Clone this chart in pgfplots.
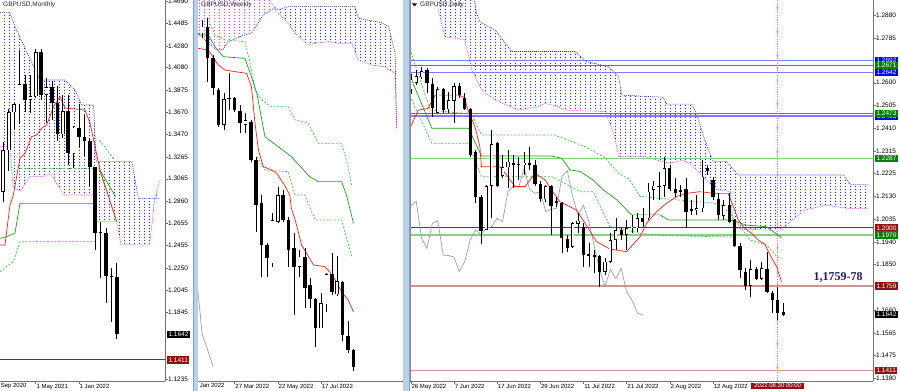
\documentclass[border=0pt]{standalone}
\usepackage{pgfplots}
\pgfplotsset{compat=1.18}
\usepackage{pgfplotstable}
\usepgfplotslibrary{fillbetween}
\usetikzlibrary{patterns}
\usepackage{fontspec}
\setmainfont{Liberation Sans}
\newfontfamily\bigserif{Liberation Serif}

\definecolor{cloudblue}{RGB}{40,40,255}
\definecolor{cloudmag}{RGB}{235,60,235}
\definecolor{tenkan}{RGB}{255,30,30}
\definecolor{kijun}{RGB}{40,150,40}
\definecolor{dgreen}{RGB}{80,185,80}
\definecolor{chikou}{RGB}{150,160,178}
\definecolor{lvblue}{RGB}{125,125,250}
\definecolor{lvgreen}{RGB}{60,150,60}
\definecolor{lvlgreen}{RGB}{140,205,140}
\definecolor{lvdred}{RGB}{150,35,35}
\definecolor{lvrose}{RGB}{205,150,150}
\definecolor{boxblue}{RGB}{0,0,235}
\definecolor{boxgreen}{RGB}{0,128,0}
\definecolor{boxred}{RGB}{140,20,20}
\definecolor{sepblue}{RGB}{185,208,232}
\definecolor{sepedge}{RGB}{130,160,200}
\definecolor{navytxt}{RGB}{30,30,85}
\definecolor{vdot}{RGB}{235,130,130}

\pgfdeclarepatternformonly{mtdots}{\pgfqpoint{0pt}{0pt}}{\pgfqpoint{5.4pt}{3pt}}{\pgfqpoint{5.4pt}{3pt}}{\pgfpathrectangle{\pgfqpoint{0pt}{0pt}}{\pgfqpoint{0.9pt}{1.6pt}}\pgfusepath{fill}}

\pgfplotsset{
 mt/.style={scale only axis, height=381pt, axis x line*=bottom, tick align=outside,
   major tick length=2.5pt, axis line style={draw=black!55, line width=0.6pt},
   tick style={black!55, line width=0.5pt},
   xticklabel style={font=\fontsize{6}{7}\selectfont, anchor=north west, inner sep=0.6pt},
   yticklabel style={font=\fontsize{6.5}{7}\selectfont, anchor=west, inner sep=0.5pt}},
 tk/.style={tenkan, line width=0.7pt},
 kj/.style={kijun, line width=0.7pt},
 dg/.style={dgreen, line width=0.7pt, dash pattern=on 2pt off 1.6pt},
 ck/.style={chikou, line width=0.7pt},
 spa/.style={cloudblue, line width=0.6pt, dash pattern=on 1pt off 1pt},
 spb/.style={cloudmag, line width=0.6pt, dash pattern=on 1pt off 1pt},
}

\pgfplotstableread{
x o h l c
0 1.2945 1.3399 1.2854 1.3325
1 1.3325 1.3704 1.3134 1.3671
2 1.3671 1.3758 1.3520 1.3746
3 1.3746 1.4241 1.3566 1.3929
4 1.3929 1.4017 1.3671 1.3784
5 1.3784 1.4009 1.3669 1.3820
6 1.3820 1.4250 1.3800 1.4222
7 1.4222 1.4249 1.3787 1.3830
8 1.3830 1.3984 1.3571 1.3900
9 1.3900 1.3958 1.3602 1.3754
10 1.3754 1.3913 1.3412 1.3471
11 1.3471 1.3834 1.3434 1.3681
12 1.3681 1.3834 1.3194 1.3299
13 1.3299 1.3548 1.3160 1.3531
14 1.3531 1.3750 1.3358 1.3447
15 1.3447 1.3644 1.3272 1.3414
16 1.3414 1.3438 1.3001 1.3169
17 1.3169 1.3170 1.2411 1.2567
18 1.2567 1.2667 1.2155 1.2573
19 1.2573 1.2618 1.1933 1.2178
20 1.2178 1.2247 1.1760 1.2167
21 1.2167 1.2294 1.1600 1.1642
}\mdata

\pgfplotstableread{
x o h l c
0 1.3556 1.3632 1.3527 1.3594
1 1.3594 1.3642 1.3278 1.3412
2 1.3412 1.3431 1.3202 1.3240
3 1.3231 1.3240 1.3020 1.3030
4 1.3030 1.3211 1.3001 1.3179
5 1.3179 1.3326 1.3116 1.3177
6 1.3183 1.3189 1.3106 1.3116
7 1.3110 1.3145 1.2982 1.3039
8 1.3030 1.3097 1.2982 1.3059
9 1.3049 1.3059 1.2820 1.2829
10 1.2829 1.2848 1.2418 1.2571
11 1.2580 1.2628 1.2160 1.2341
12 1.2341 1.2351 1.2160 1.2265
13 1.2236 1.2523 1.2217 1.2485
14 1.2475 1.2676 1.2466 1.2628
15 1.2628 1.2657 1.2475 1.2485
16 1.2485 1.2504 1.2217 1.2313
17 1.2322 1.2408 1.1940 1.2217
18 1.2217 1.2313 1.2160 1.2274
19 1.2274 1.2326 1.1978 1.2097
20 1.2112 1.2150 1.1978 1.2032
21 1.2032 1.2039 1.1758 1.1863
22 1.1863 1.2064 1.1863 1.2007
23 1.2001 1.2179 1.1959 1.2173
24 1.2173 1.2294 1.2055 1.2070
25 1.2058 1.2280 1.2051 1.2135
26 1.2127 1.2135 1.1791 1.1825
27 1.1822 1.1905 1.1720 1.1739
28 1.1739 1.1745 1.1618 1.1643
}\wdata

\pgfplotstableread{
x o h l c
0 1.2573 1.2635 1.2555 1.2615
1 1.2600 1.2653 1.2591 1.2628
2 1.2622 1.2666 1.2614 1.2649
3 1.2653 1.2660 1.2556 1.2600
4 1.2595 1.2618 1.2460 1.2494
5 1.2476 1.2581 1.2471 1.2573
6 1.2573 1.2577 1.2474 1.2487
7 1.2490 1.2563 1.2474 1.2529
8 1.2526 1.2598 1.2432 1.2587
9 1.2587 1.2598 1.2536 1.2549
10 1.2536 1.2556 1.2487 1.2490
11 1.2490 1.2494 1.2295 1.2301
12 1.2315 1.2322 1.2104 1.2129
13 1.2129 1.2136 1.1934 1.1989
14 1.1992 1.2177 1.1992 1.2173
15 1.2173 1.2405 1.2040 1.2347
16 1.2350 1.2357 1.2171 1.2173
17 1.2215 1.2301 1.2205 1.2251
18 1.2251 1.2322 1.2164 1.2274
19 1.2270 1.2301 1.2164 1.2259
20 1.2261 1.2295 1.2198 1.2260
21 1.2259 1.2315 1.2219 1.2270
22 1.2267 1.2333 1.2239 1.2260
23 1.2260 1.2281 1.2174 1.2182
24 1.2182 1.2195 1.2109 1.2118
25 1.2118 1.2176 1.2109 1.2173
26 1.2173 1.2177 1.1971 1.2091
27 1.2105 1.2129 1.2088 1.2110
28 1.2102 1.2109 1.1898 1.1957
29 1.1953 1.1971 1.1902 1.1916
30 1.1923 1.2026 1.1916 1.2019
31 1.2017 1.2061 1.1978 1.2030
32 1.2006 1.2019 1.1840 1.1888
33 1.1892 1.1937 1.1840 1.1886
34 1.1888 1.1909 1.1813 1.1880
35 1.1884 1.1889 1.1758 1.1820
36 1.1820 1.1875 1.1806 1.1861
37 1.1861 1.1978 1.1854 1.1950
38 1.1950 1.2040 1.1909 1.1992
39 1.1992 1.1999 1.1950 1.1971
40 1.1971 1.2033 1.1909 1.1999
41 1.1999 1.2054 1.1978 1.2006
42 1.1999 1.2061 1.1985 1.2040
43 1.2040 1.2081 1.2006 1.2026
44 1.2040 1.2185 1.2033 1.2150
45 1.2157 1.2192 1.2116 1.2174
46 1.2174 1.2233 1.2116 1.2168
47 1.2174 1.2295 1.2129 1.2247
48 1.2247 1.2260 1.2154 1.2160
49 1.2160 1.2205 1.2129 1.2143
50 1.2155 1.2178 1.2129 1.2150
51 1.2160 1.2205 1.1999 1.2068
52 1.2072 1.2116 1.2054 1.2077
53 1.2074 1.2136 1.2054 1.2081
54 1.2081 1.2281 1.2068 1.2212
55 1.2247 1.2260 1.2219 1.2237
56 1.2198 1.2212 1.2116 1.2129
57 1.2120 1.2143 1.2032 1.2054
58 1.2049 1.2115 1.2032 1.2094
59 1.2094 1.2143 1.2019 1.2026
60 1.2032 1.2039 1.1922 1.1925
61 1.1925 1.1936 1.1792 1.1826
62 1.1819 1.1833 1.1743 1.1760
63 1.1760 1.1867 1.1716 1.1829
64 1.1829 1.1840 1.1785 1.1791
65 1.1791 1.1860 1.1785 1.1833
66 1.1829 1.1902 1.1732 1.1736
67 1.1732 1.1740 1.1647 1.1702
68 1.1702 1.1757 1.1619 1.1649
69 1.1654 1.1691 1.1636 1.1640
}\ddata

\begin{document}
\begin{tikzpicture}[x=1pt,y=1pt]

%================ MONTHLY =================
\begin{axis}[mt, at={(0pt,10pt)}, anchor=south west, width=165pt,
  xmin=-0.611, xmax=29.94, ymin=1.12164, ymax=1.4699,
  axis y line*=right,
  ytick={1.4690,1.4485,1.4280,1.4080,1.3875,1.3670,1.3470,1.3265,1.3065,1.2860,1.2655,1.2455,1.2250,1.2045,1.1845,1.1235},
  yticklabels={1.4690,1.4485,1.4280,1.4080,1.3875,1.3670,1.3470,1.3265,1.3065,1.2860,1.2655,1.2455,1.2250,1.2045,1.1845,1.1235},
  xtick={6,14}, xticklabels={1 May 2021,1 Jan 2022}]
\addplot[name path=mA, spa] coordinates {(-0.611,1.4583)(1.24,1.4583)(2.17,1.4455)(6.8,1.3968)(11.4,1.3968)(13.3,1.3876)(14.5,1.3739)(16.7,1.3739)(17.2,1.3221)(23.8,1.3221)(25.0,1.2886)(29.0,1.2886)};
\addplot[name path=mB, spb] coordinates {(-0.611,1.3358)(1.2,1.3358)(1.8,1.3000)(3.1,1.2950)(4.9,1.3084)(7.4,1.3084)(8.6,1.3115)(10.5,1.2978)(11.2,1.2917)(16.7,1.2917)(17.4,1.2673)(21.0,1.2673)(21.8,1.2460)(27.1,1.2460)(28.0,1.2870)(29.0,1.3053)};
\addplot[draw=none, pattern=mtdots, pattern color=cloudblue] fill between[of=mA and mB, soft clip={domain=-1:28.0}];
\addplot[draw=none, pattern=mtdots, pattern color=cloudmag] fill between[of=mA and mB, soft clip={domain=28.0:30}];
\addplot[lvdred, line width=0.8pt] coordinates {(-1,1.1411)(31,1.1411)};
\addplot[dg] coordinates {(-0.611,1.2216)(1.86,1.2307)(3.09,1.2490)(17,1.2490)};
\addplot[dg] coordinates {(3.09,1.3160)(17.3,1.3160)};
\addplot[dg] coordinates {(17.8,1.3419)(20.6,1.3236)};
\addplot[dg] coordinates {(17.7,1.3161)(21.0,1.2673)};
\addplot[kj] coordinates {(-0.611,1.2520)(0.62,1.2536)(2.16,1.2567)(3.09,1.2840)(16.7,1.2840)};
\addplot[kj] coordinates {(17.7,1.3161)(20.8,1.2901)};
\addplot[tk] coordinates {(-0.611,1.2460)(0.31,1.2460)(1.24,1.2826)(1.86,1.2917)(3.09,1.3252)(4.02,1.3297)(5.25,1.3450)(6.2,1.3465)(7.1,1.3526)(8.03,1.3556)(9.3,1.3724)(10.5,1.3815)(11.4,1.3712)(15.1,1.3694)(16.05,1.3575)(17.9,1.3145)(21.0,1.2673)};
\addplot[black, line width=0.6pt, mark=none, quiver={u=0, v=\thisrow{h}-\thisrow{l}}] table[x=x, y=l] {\mdata};
\addplot[black, line width=3.6pt, mark=none, quiver={u=0, v={max(abs(\thisrow{c}-\thisrow{o}),0.0009)}}] table[x=x, y expr={min(\thisrow{o},\thisrow{c})}] {\mdata};
\addplot[white, line width=2.4pt, mark=none, quiver={u=0, v={max(\thisrow{c}-\thisrow{o}-0.0011,0)}}] table[x=x, y expr={\thisrow{o}+0.00055}] {\mdata};
\coordinate (m1642) at (axis cs:29.94,1.1642);
\coordinate (m1411) at (axis cs:29.94,1.1411);
\end{axis}

%================ WEEKLY =================
\begin{axis}[mt, at={(198pt,10pt)}, anchor=south west, width=205pt,
  xmin=-0.796, xmax=37.17, ymin=1.15611, ymax=1.3747,
  axis y line=none, ytick=\empty,
  xtick={6,14,22}, xticklabels={27 Mar 2022,22 May 2022,17 Jul 2022}]
\addplot[name path=wA, spa] coordinates {(-0.8,1.3558)(1.12,1.3499)(2.66,1.3460)(3.9,1.3464)(4.82,1.3508)(7.3,1.3540)(9.14,1.3559)(11.3,1.3661)(13.5,1.3705)(14.1,1.3690)(15.9,1.3709)(28.3,1.3709)(28.9,1.3642)(33.2,1.3617)(34.5,1.3594)(35.7,1.3441)(36.0,1.3011)};
\addplot[name path=wB, spb] coordinates {(-0.8,1.3804)(11.0,1.3804)(12.9,1.3728)(13.8,1.3680)(15.4,1.3632)(17.2,1.3556)(19.6,1.3489)(20.9,1.3499)(23.3,1.3508)(25.2,1.3499)(27.7,1.3499)(28.9,1.3403)(31.4,1.3374)(33.8,1.3364)(35.7,1.3326)(36.0,1.3011)};
\addplot[draw=none, pattern=mtdots, pattern color=cloudmag] fill between[of=wA and wB, soft clip={domain=-1:13.4}];
\addplot[draw=none, pattern=mtdots, pattern color=cloudblue] fill between[of=wA and wB, soft clip={domain=13.4:37}];
\addplot[ck] coordinates {(-1,1.2135)(0,1.1825)(1,1.1739)(2,1.1643)};
\addplot[dg] coordinates {(1.0,1.3650)(1.4,1.3613)(2.35,1.3546)(4.2,1.3518)(7.9,1.3508)(8.8,1.3393)(9.8,1.3231)(11.0,1.3173)(12.8,1.3135)(15.9,1.3135)(17.2,1.3059)(19.6,1.3040)(21.5,1.2925)(25.8,1.2925)(27.0,1.2791)(27.7,1.2676)};
\addplot[dg] coordinates {(10.1,1.2848)(11.6,1.2772)(15.9,1.2762)(17.2,1.2628)(19.0,1.2628)(20.9,1.2485)(25.8,1.2485)(27.7,1.2274)};
\addplot[kj] coordinates {(-0.8,1.3546)(1.1,1.3546)(2.35,1.3479)(3.9,1.3422)(7.9,1.3412)(9.1,1.3307)(10.1,1.3212)(11.6,1.2963)(16.5,1.2848)(19.9,1.2733)(21.5,1.2705)(25.8,1.2705)(26.7,1.2628)(28,1.2466)};
\addplot[tk] coordinates {(-0.8,1.3470)(1.1,1.3460)(2.97,1.3374)(4.2,1.3345)(8.2,1.3326)(9.1,1.3250)(9.76,1.3040)(10.4,1.2886)(11.3,1.2791)(12.8,1.2772)(13.8,1.2753)(15.4,1.2676)(16.2,1.2628)(16.5,1.2552)(17.2,1.2485)(18.4,1.2341)(19.3,1.2294)(20.6,1.2227)(22.7,1.2217)(23.6,1.2188)(24.6,1.2141)(25.8,1.2074)(27.0,1.2026)(28.0,1.1959)};
\addplot[black, line width=0.6pt, mark=none, quiver={u=0, v=\thisrow{h}-\thisrow{l}}] table[x=x, y=l] {\wdata};
\addplot[black, line width=3.6pt, mark=none, quiver={u=0, v={max(abs(\thisrow{c}-\thisrow{o}),0.0006)}}] table[x=x, y expr={min(\thisrow{o},\thisrow{c})}] {\wdata};
\addplot[white, line width=2.4pt, mark=none, quiver={u=0, v={max(\thisrow{c}-\thisrow{o}-0.00068,0)}}] table[x=x, y expr={\thisrow{o}+0.00034}] {\wdata};
\end{axis}

%================ DAILY =================
\begin{axis}[mt, at={(410pt,10pt)}, anchor=south west, width=463pt,
  xmin=-0.148, xmax=85.66, ymin=1.13676, ymax=1.2942,
  axis y line*=right,
  ytick={1.2880,1.2785,1.2600,1.2505,1.2410,1.2315,1.2225,1.2130,1.2035,1.1940,1.1850,1.1660,1.1565,1.1475,1.1380},
  yticklabels={1.2880,1.2785,1.2600,1.2505,1.2410,1.2315,1.2225,1.2130,1.2035,1.1940,1.1850,1.1660,1.1565,1.1475,1.1380},
  xtick={0,8,16,24,32,40,48,56},
  xticklabels={26 May 2022,7 Jun 2022,17 Jun 2022,29 Jun 2022,11 Jul 2022,21 Jul 2022,2 Aug 2022,12 Aug 2022}]
\addplot[name path=dA, spa] coordinates {(-0.15,1.31)(10.6,1.31)(12.2,1.2887)(12.8,1.2852)(15.6,1.2818)(16.8,1.2784)(18.7,1.2729)(30.4,1.2729)(32.6,1.2687)(36.6,1.2667)(38.5,1.2625)(39.1,1.2549)(46.8,1.2540)(47.4,1.2512)(52.1,1.2512)(53,1.2467)(53.6,1.2425)(54.5,1.2363)(55.4,1.2308)(56.1,1.2274)(58.5,1.2274)(60.7,1.2219)(80.2,1.2219)(81.4,1.2180)(84.8,1.2180)};
\addplot[name path=dB, spb] coordinates {(-0.15,1.31)(4.5,1.2990)(5.1,1.2901)(6.3,1.2790)(10,1.2777)(11.3,1.2653)(13.1,1.2570)(15.6,1.2529)(19.9,1.2487)(23.6,1.2501)(24.9,1.2515)(27.3,1.2501)(28.6,1.2487)(36,1.2481)(36.9,1.2432)(37.8,1.2377)(38.5,1.2295)(43.4,1.2295)(45.6,1.2281)(48,1.2267)(50.5,1.2281)(52.4,1.2253)(53.6,1.2226)(54.8,1.2198)(56.5,1.2160)(59.2,1.2150)(59.8,1.2000)(62,1.1995)(66,1.1991)(68.7,1.1991)(70.6,1.2032)(73,1.2074)(76.8,1.2094)(81,1.2081)(84.8,1.2081)};
\addplot[draw=none, pattern=mtdots, pattern color=cloudblue] fill between[of=dA and dB];
% horizontal levels
\addplot[lvblue, line width=1.8pt] coordinates {(-1,1.2692)(90,1.2692)};
\addplot[lvblue, line width=1.8pt] coordinates {(-1,1.2642)(90,1.2642)};
\addplot[lvgreen, line width=0.8pt] coordinates {(-1,1.2671)(90,1.2671)};
\addplot[lvblue, line width=1.8pt] coordinates {(-1,1.2463)(90,1.2463)};
\addplot[lvgreen, line width=0.8pt] coordinates {(-1,1.2473)(90,1.2473)};
\addplot[lvlgreen, line width=1.8pt] coordinates {(-1,1.2287)(90,1.2287)};
\addplot[lvlgreen, line width=1.8pt] coordinates {(-1,1.1970)(90,1.1970)};
\addplot[lvdred, line width=1pt] coordinates {(-1,1.2000)(90,1.2000)};
\addplot[lvrose, line width=1.8pt] coordinates {(-1,1.1759)(90,1.1759)};
\addplot[lvrose, line width=1.8pt] coordinates {(-1,1.1411)(90,1.1411)};
\addplot[vdot, line width=0.7pt, dash pattern=on 1.2pt off 1.2pt] coordinates {(68,1.13)(68,1.30)};
% ichimoku lines
\addplot[ck] coordinates {(-1,1.2173)(0,1.2091)(1,1.2110)(2,1.1957)(3,1.1916)(4,1.2019)(5,1.2030)(6,1.1888)(7,1.1886)(8,1.1880)(9,1.1820)(10,1.1861)(11,1.1950)(12,1.1992)(13,1.1971)(14,1.1999)(15,1.2006)(16,1.2040)(17,1.2026)(18,1.2150)(19,1.2174)(20,1.2168)(21,1.2247)(22,1.2160)(23,1.2143)(24,1.2150)(25,1.2068)(26,1.2077)(27,1.2081)(28,1.2212)(29,1.2237)(30,1.2129)(31,1.2054)(32,1.2094)(33,1.2026)(34,1.1925)(35,1.1826)(36,1.1760)(37,1.1829)(38,1.1791)(39,1.1833)(40,1.1736)(41,1.1702)(42,1.1649)(43,1.1640)};
\addplot[dg] coordinates {(-0.15,1.2740)(3.6,1.2487)(11.3,1.2470)(13.1,1.2384)(26.7,1.2384)(32.3,1.2336)(36,1.2290)(38.5,1.2226)(40.5,1.2200)(42.5,1.2130)(57.3,1.2100)(59.5,1.2050)(62.9,1.1950)(66,1.1929)(67.8,1.1881)(68.7,1.1874)};
\addplot[dg] coordinates {(-0.15,1.2545)(3.9,1.2350)(10.7,1.2350)(13.1,1.2212)(26.1,1.2212)(28,1.2190)(31.4,1.2150)(33.8,1.2150)(36.9,1.2006)(42.5,1.1978)(47.4,1.1968)(61,1.1962)};
\addplot[kj] coordinates {(-0.15,1.2640)(0.3,1.2604)(3.9,1.2412)(10.7,1.2412)(13.1,1.2297)(26.1,1.2297)(28.0,1.2288)(29.5,1.2240)(31.4,1.2233)(33.8,1.2198)(35.7,1.2157)(38.2,1.2116)(40.9,1.2054)(46.2,1.2054)(47.7,1.2033)(59.2,1.2033)(62.2,1.2012)(65.9,1.2005)(68.7,1.1960)};
\addplot[tk] coordinates {(-0.15,1.2410)(0,1.2421)(1.4,1.2487)(3.2,1.2494)(4.5,1.2549)(8.8,1.2549)(9.9,1.2540)(10.7,1.2481)(11.9,1.2419)(12.8,1.2336)(13.1,1.2253)(16.5,1.2253)(17.5,1.2226)(19.3,1.2171)(21.2,1.2171)(23.0,1.2226)(24.9,1.2198)(26.1,1.2157)(27.6,1.2109)(30.7,1.2074)(32.3,1.2019)(34.4,1.1944)(36.9,1.1913)(40.0,1.1902)(42.5,1.1964)(43.7,1.2019)(45.6,1.2068)(47.4,1.2102)(49.3,1.2130)(51.1,1.2143)(53.6,1.2150)(56.1,1.2143)(58.8,1.2143)(59.8,1.2088)(60.7,1.2032)(61.9,1.1998)(63.2,1.1977)(64.4,1.1950)(65.6,1.1933)(66.6,1.1888)(67.8,1.1840)(68.7,1.1778)};
\addplot[black, line width=0.6pt, mark=none, quiver={u=0, v=\thisrow{h}-\thisrow{l}}] table[x=x, y=l] {\ddata};
\addplot[black, line width=3.2pt, mark=none, quiver={u=0, v={max(abs(\thisrow{c}-\thisrow{o}),0.0004)}}] table[x=x, y expr={min(\thisrow{o},\thisrow{c})}] {\ddata};
\addplot[white, line width=2.0pt, mark=none, quiver={u=0, v={max(\thisrow{c}-\thisrow{o}-0.0005,0)}}] table[x=x, y expr={\thisrow{o}+0.00025}] {\ddata};
\coordinate (d2692) at (axis cs:85.66,1.2692);
\coordinate (d2671) at (axis cs:85.66,1.2671);
\coordinate (d2642) at (axis cs:85.66,1.2642);
\coordinate (d2473) at (axis cs:85.66,1.2473);
\coordinate (d2463) at (axis cs:85.66,1.2463);
\coordinate (d2287) at (axis cs:85.66,1.2287);
\coordinate (d2000) at (axis cs:85.66,1.2000);
\coordinate (d1970) at (axis cs:85.66,1.1970);
\coordinate (d1759) at (axis cs:85.66,1.1759);
\coordinate (d1642) at (axis cs:85.66,1.1642);
\coordinate (d1411) at (axis cs:85.66,1.1411);
\coordinate (dtxt) at (axis cs:79.2,1.1797);
\coordinate (ddate) at (axis cs:68,1.13676);
\end{axis}

% price boxes
\tikzset{pbox/.style={anchor=west, text=white, font=\fontsize{6.5}{7}\selectfont, inner xsep=1.3pt, inner ysep=0pt, minimum height=7.6pt, text height=4.7pt, text depth=0pt, xshift=2pt}}
\node[pbox, fill=black] at (m1642) {1.1642};
\node[pbox, fill=boxred] at (m1411) {1.1411};
\node[pbox, fill=boxblue] at (d2692) {1.2692};
\node[pbox, fill=boxblue] at (d2642) {1.2642};
\node[pbox, fill=boxgreen] at (d2671) {1.2671};
\node[pbox, fill=boxblue] at (d2463) {1.2463};
\node[pbox, fill=boxgreen] at (d2473) {1.2473};
\node[pbox, fill=boxgreen] at (d2287) {1.2287};
\node[pbox, fill=boxred] at (d2000) {1.2000};
\node[pbox, fill=boxgreen] at (d1970) {1.1970};
\node[pbox, fill=boxred] at (d1759) {1.1759};
\node[pbox, fill=black] at (d1642) {1.1642};
\node[pbox, fill=boxred] at (d1411) {1.1411};
\node[font=\bigserif\bfseries\fontsize{12}{14}\selectfont, text=navytxt, inner sep=0pt] at (dtxt) {1,1759-78};
\node[anchor=north, fill=boxred, text=white, font=\fontsize{6}{7}\selectfont, inner xsep=3pt, inner ysep=0.8pt, yshift=-1.5pt] at (ddate) {2022.08.30 00:00};

% partial left date labels
\node[anchor=north west, inner sep=0.6pt, font=\fontsize{6}{7}\selectfont] at (0,8.5) {Sep 2020};
\node[anchor=north west, inner sep=0.6pt, font=\fontsize{6}{7}\selectfont] at (199,8.5) {Jan 2022};

% separators
\fill[sepblue] (193,0) rectangle (198,391);
\draw[sepedge, line width=0.5pt] (193.25,0) -- (193.25,391);
\fill[sepblue] (403,0) rectangle (409.5,391);
\draw[sepedge, line width=0.5pt] (409.25,0) -- (409.25,391);
\draw[black!45, line width=0.5pt] (410,10) -- (410,391);

% titles
\node[anchor=north west, inner sep=0pt, font=\fontsize{6.5}{7}\selectfont, text=black!85] at (3,389) {GBPUSD,Monthly};
\node[anchor=north west, inner sep=0pt, font=\fontsize{6.5}{7}\selectfont, text=black!85] at (201,389) {GBPUSD,Weekly};
\fill[black] (412,387.5) -- (417,387.5) -- (414.5,384.5) -- cycle;
\node[anchor=north west, inner sep=0pt, font=\fontsize{6.5}{7}\selectfont, text=black!85] at (420,389) {GBPUSD,Daily};

\pgfresetboundingbox
\path[use as bounding box] (0,0) rectangle (900,391);
\end{tikzpicture}
\end{document}
